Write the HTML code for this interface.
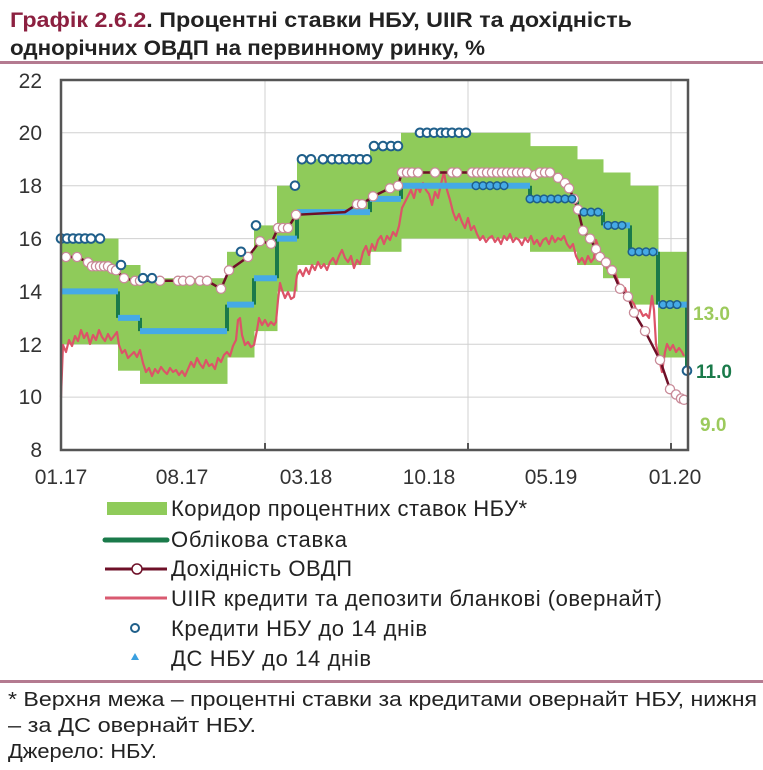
<!DOCTYPE html>
<html><head><meta charset="utf-8"><style>
body{margin:0;background:#fff;width:763px;height:765px;overflow:hidden;font-family:"Liberation Sans",sans-serif}
</style></head><body>
<svg width="763" height="765" xmlns="http://www.w3.org/2000/svg" font-family="Liberation Sans, sans-serif">
<g font-weight="bold" font-size="21" fill="#222">
<text x="10" y="27" textLength="622" lengthAdjust="spacingAndGlyphs"><tspan fill="#8c2040">Графік 2.6.2</tspan>. Процентні ставки НБУ, UIIR та дохідність</text>
<text x="10" y="55" textLength="475" lengthAdjust="spacingAndGlyphs">однорічних ОВДП на первинному ринку, %</text>
</g>
<rect x="0" y="61" width="763" height="3" fill="#b47a90"/>
<g stroke="#d0d0d0" stroke-width="1">
<line x1="61" x2="688" y1="132.8" y2="132.8"/><line x1="61" x2="688" y1="185.7" y2="185.7"/><line x1="61" x2="688" y1="238.6" y2="238.6"/><line x1="61" x2="688" y1="291.4" y2="291.4"/><line x1="61" x2="688" y1="344.3" y2="344.3"/><line x1="61" x2="688" y1="397.1" y2="397.1"/>
<line x1="265" x2="265" y1="80" y2="450"/><line x1="468" x2="468" y1="80" y2="450"/><line x1="671" x2="671" y1="80" y2="450"/>
</g>
<g fill="#8fcb5a">
<rect x="61" y="238.6" width="57.5" height="105.7"/>
<rect x="118" y="265" width="22.5" height="105.7"/>
<rect x="140" y="278.2" width="87.5" height="105.7"/>
<rect x="227" y="251.8" width="27.5" height="105.7"/>
<rect x="254" y="225.4" width="23.5" height="105.7"/>
<rect x="277" y="185.7" width="20.5" height="105.7"/>
<rect x="297" y="159.3" width="73.5" height="105.7"/>
<rect x="370" y="146.1" width="31.5" height="105.7"/>
<rect x="401" y="132.8" width="129.5" height="105.7"/>
<rect x="530" y="146.1" width="47.5" height="105.7"/>
<rect x="577" y="159.3" width="26.5" height="105.7"/>
<rect x="603" y="172.5" width="27.5" height="105.7"/>
<rect x="630" y="185.7" width="28.5" height="118.9"/>
<rect x="658" y="251.8" width="30" height="105.7"/>
</g>
<polyline fill="none" stroke="#dc5468" stroke-width="2.2" stroke-linejoin="round" points="61,397 63,345 66,352 69,340 72,346 75,336 78,341 81,330 84,338 87,333 90,344 93,335 96,340 99,330 102,337 105,341 108,334 111,340 114,336 117,332 119,345 122,353 125,350 128,358 131,355 134,352 137,357 140,350 143,363 146,372 149,368 152,376 155,369 158,373 161,367 164,371 167,374 170,368 173,372 176,370 179,375 182,371 185,376 188,369 191,362 194,367 197,358 200,364 203,368 206,360 209,366 212,364 215,369 218,358 221,362 224,355 227,352 230,356 233,346 236,340 238,320 240,318 242,335 245,345 248,342 251,347 254,345 257,330 259,318 262,325 265,320 268,326 271,322 274,325 276,322 278,300 280,283 282,290 285,298 288,292 291,299 294,297 297,275 300,270 303,276 306,268 309,274 312,265 315,270 318,262 321,268 324,264 327,270 330,262 333,258 336,264 339,256 342,250 345,258 348,262 351,256 354,268 357,260 360,264 363,252 366,246 369,255 372,244 375,250 378,240 381,236 384,244 387,236 390,240 393,232 396,236 399,226 402,208 405,202 408,196 411,190 414,198 417,186 420,192 423,183 426,190 429,194 432,205 435,192 438,198 441,184 444,172 447,190 450,200 453,212 456,220 459,214 462,222 465,228 468,218 471,230 474,226 477,234 480,240 483,236 486,242 489,238 492,236 495,242 498,238 501,244 504,236 507,240 510,234 513,242 516,238 519,240 522,245 525,238 528,242 531,236 534,244 537,240 540,246 543,240 546,238 549,244 552,236 555,242 558,238 561,240 564,236 567,244 570,248 573,244 576,256 579,262 582,258 585,264 588,256 591,262 594,258 596,240 598,246 601,256 604,262 607,268 610,272 613,266 616,276 619,284 622,290 625,288 628,298 631,300 634,304 637,312 640,310 643,316 646,314 649,318 652,296 654,310 656,344 659,358 662,372 665,352 667,344 670,350 673,345 676,352 679,348 682,352 684,356"/>
<path fill="none" stroke="#1a7a4a" stroke-width="4" d="M118 291.4V317.9M140 317.9V331.1M227 331.1V304.6M254 304.6V278.2M277 278.2V238.6M297 238.6V212.1M370 212.1V198.9M401 198.9V185.7M530 185.7V198.9M577 198.9V212.1M603 212.1V225.4M630 225.4V251.8M658 251.8V304.6M687 304.6V370.7"/>
<path fill="none" stroke="#45aae6" stroke-width="6" d="M61 291.4H118M118 317.9H140M140 331.1H227M227 304.6H254M254 278.2H277M277 238.6H297M297 212.1H370M370 198.9H401M401 185.7H530M530 198.9H577M577 212.1H603M603 225.4H630M630 251.8H658M658 304.6H687"/>
<polyline fill="none" stroke="#6e1028" stroke-width="2.5" points="66,257 77,257 88,262.3 92,266.3 108,266.3 112,268.9 116,270.3 124,278.2 135,280.8 207,280.8 221,288.8 229,270.3 248,257 260,241.2 271,243.8 278,228 288,228 296,214.8 345,212.1 357,204.2 362,204.2 373,196.3 390,188.3 398,185.7 402,172.5 527,172.5 535,175.1 540,172.5 550,172.5 558,177.8 565,183.1 569,188.3 574,198.9 578,209.5 583,230.6 590,238.6 596,249.2 600,257 606,262.3 612,270.3 620,288.8 628,296.7 634,312.6 645,331.1 660,360.1 670,389.2 676,394.5 681,398.5 684,399.8"/>
<g fill="#fff" stroke="#c88a98" stroke-width="1.3">
<circle cx="66" cy="257" r="4.6"/><circle cx="77" cy="257" r="4.6"/><circle cx="88" cy="262.3" r="4.6"/><circle cx="92" cy="266.3" r="4.6"/><circle cx="96" cy="266.3" r="4.6"/><circle cx="100" cy="266.3" r="4.6"/><circle cx="104" cy="266.3" r="4.6"/><circle cx="108" cy="266.3" r="4.6"/><circle cx="112" cy="268.9" r="4.6"/><circle cx="116" cy="270.3" r="4.6"/><circle cx="124" cy="278.2" r="4.6"/><circle cx="135" cy="280.8" r="4.6"/><circle cx="140" cy="280.8" r="4.6"/><circle cx="160" cy="280.8" r="4.6"/><circle cx="178" cy="280.8" r="4.6"/><circle cx="183" cy="280.8" r="4.6"/><circle cx="190" cy="280.8" r="4.6"/><circle cx="200" cy="280.8" r="4.6"/><circle cx="207" cy="280.8" r="4.6"/><circle cx="221" cy="288.8" r="4.6"/><circle cx="229" cy="270.3" r="4.6"/><circle cx="248" cy="257" r="4.6"/><circle cx="260" cy="241.2" r="4.6"/><circle cx="271" cy="243.8" r="4.6"/><circle cx="278" cy="228" r="4.6"/><circle cx="283" cy="228" r="4.6"/><circle cx="288" cy="228" r="4.6"/><circle cx="296" cy="214.8" r="4.6"/><circle cx="357" cy="204.2" r="4.6"/><circle cx="362" cy="204.2" r="4.6"/><circle cx="373" cy="196.3" r="4.6"/><circle cx="390" cy="188.3" r="4.6"/><circle cx="398" cy="185.7" r="4.6"/>
<circle cx="402" cy="172.5" r="4.6"/><circle cx="407" cy="172.5" r="4.6"/><circle cx="412" cy="172.5" r="4.6"/><circle cx="418" cy="172.5" r="4.6"/><circle cx="435" cy="172.5" r="4.6"/><circle cx="452" cy="172.5" r="4.6"/><circle cx="457" cy="172.5" r="4.6"/><circle cx="472" cy="172.5" r="4.6"/><circle cx="477" cy="172.5" r="4.6"/><circle cx="482" cy="172.5" r="4.6"/><circle cx="487" cy="172.5" r="4.6"/><circle cx="492" cy="172.5" r="4.6"/><circle cx="497" cy="172.5" r="4.6"/><circle cx="502" cy="172.5" r="4.6"/><circle cx="507" cy="172.5" r="4.6"/><circle cx="512" cy="172.5" r="4.6"/><circle cx="517" cy="172.5" r="4.6"/><circle cx="522" cy="172.5" r="4.6"/><circle cx="527" cy="172.5" r="4.6"/><circle cx="535" cy="175.1" r="4.6"/><circle cx="540" cy="172.5" r="4.6"/><circle cx="545" cy="172.5" r="4.6"/><circle cx="550" cy="172.5" r="4.6"/><circle cx="558" cy="177.8" r="4.6"/><circle cx="565" cy="183.1" r="4.6"/><circle cx="569" cy="188.3" r="4.6"/><circle cx="574" cy="198.9" r="4.6"/><circle cx="578" cy="209.5" r="4.6"/><circle cx="583" cy="230.6" r="4.6"/><circle cx="590" cy="238.6" r="4.6"/><circle cx="596" cy="249.2" r="4.6"/><circle cx="600" cy="257" r="4.6"/><circle cx="606" cy="262.3" r="4.6"/><circle cx="612" cy="270.3" r="4.6"/><circle cx="620" cy="288.8" r="4.6"/><circle cx="628" cy="296.7" r="4.6"/><circle cx="634" cy="312.6" r="4.6"/><circle cx="645" cy="331.1" r="4.6"/><circle cx="660" cy="360.1" r="4.6"/><circle cx="670" cy="389.2" r="4.6"/><circle cx="676" cy="394.5" r="4.6"/><circle cx="681" cy="398.5" r="4.6"/><circle cx="684" cy="399.8" r="4.6"/>
</g>
<g fill="#fff" stroke="#1f5f8a" stroke-width="2">
<circle cx="61" cy="238.6" r="4.3"/><circle cx="67" cy="238.6" r="4.3"/><circle cx="73" cy="238.6" r="4.3"/><circle cx="79" cy="238.6" r="4.3"/><circle cx="85" cy="238.6" r="4.3"/><circle cx="91" cy="238.6" r="4.3"/><circle cx="100" cy="238.6" r="4.3"/><circle cx="121" cy="265" r="4.3"/><circle cx="143" cy="278.2" r="4.3"/><circle cx="152" cy="278.2" r="4.3"/><circle cx="241" cy="251.8" r="4.3"/><circle cx="256" cy="225.4" r="4.3"/><circle cx="295" cy="185.7" r="4.3"/>
<circle cx="302" cy="159.3" r="4.3"/><circle cx="311" cy="159.3" r="4.3"/><circle cx="323" cy="159.3" r="4.3"/><circle cx="332" cy="159.3" r="4.3"/><circle cx="339" cy="159.3" r="4.3"/><circle cx="346" cy="159.3" r="4.3"/><circle cx="353" cy="159.3" r="4.3"/><circle cx="360" cy="159.3" r="4.3"/><circle cx="367" cy="159.3" r="4.3"/>
<circle cx="374" cy="146.1" r="4.3"/><circle cx="383" cy="146.1" r="4.3"/><circle cx="391" cy="146.1" r="4.3"/><circle cx="398" cy="146.1" r="4.3"/>
<circle cx="420" cy="132.8" r="4.3"/><circle cx="427" cy="132.8" r="4.3"/><circle cx="434" cy="132.8" r="4.3"/><circle cx="441" cy="132.8" r="4.3"/><circle cx="446" cy="132.8" r="4.3"/><circle cx="452" cy="132.8" r="4.3"/><circle cx="459" cy="132.8" r="4.3"/><circle cx="466" cy="132.8" r="4.3"/>
<circle cx="687" cy="370.7" r="4.3"/>
</g>
<g fill="#45aae6" stroke="#1f5f8a" stroke-width="1.5">
<circle cx="476" cy="185.7" r="3.8"/><circle cx="483" cy="185.7" r="3.8"/><circle cx="490" cy="185.7" r="3.8"/><circle cx="497" cy="185.7" r="3.8"/><circle cx="504" cy="185.7" r="3.8"/>
<circle cx="530" cy="198.9" r="3.8"/><circle cx="537" cy="198.9" r="3.8"/><circle cx="544" cy="198.9" r="3.8"/><circle cx="551" cy="198.9" r="3.8"/><circle cx="558" cy="198.9" r="3.8"/><circle cx="565" cy="198.9" r="3.8"/><circle cx="572" cy="198.9" r="3.8"/>
<circle cx="584" cy="212.1" r="3.8"/><circle cx="591" cy="212.1" r="3.8"/><circle cx="598" cy="212.1" r="3.8"/>
<circle cx="608" cy="225.4" r="3.8"/><circle cx="615" cy="225.4" r="3.8"/><circle cx="622" cy="225.4" r="3.8"/>
<circle cx="632" cy="251.8" r="3.8"/><circle cx="639" cy="251.8" r="3.8"/><circle cx="646" cy="251.8" r="3.8"/><circle cx="653" cy="251.8" r="3.8"/>
<circle cx="663" cy="304.6" r="3.8"/><circle cx="670" cy="304.6" r="3.8"/><circle cx="677" cy="304.6" r="3.8"/>
</g>
<rect x="61" y="80" width="627" height="370" fill="none" stroke="#555" stroke-width="2.5"/>
<g stroke="#555" stroke-width="2"><line x1="265" y1="450" x2="265" y2="443"/><line x1="468" y1="450" x2="468" y2="443"/><line x1="671" y1="450" x2="671" y2="443"/></g>
<g font-size="21" fill="#333" text-anchor="end">
<text x="42" y="88">22</text><text x="42" y="140">20</text><text x="42" y="193">18</text><text x="42" y="246">16</text><text x="42" y="299">14</text><text x="42" y="352">12</text><text x="42" y="404">10</text><text x="42" y="457">8</text>
</g>
<g font-size="21" fill="#333" text-anchor="middle">
<text x="61" y="484">01.17</text><text x="182" y="484">08.17</text><text x="306" y="484">03.18</text><text x="429" y="484">10.18</text><text x="551" y="484">05.19</text><text x="675" y="484">01.20</text>
</g>
<g font-size="19" font-weight="bold">
<text x="693" y="320" fill="#9cca5c">13.0</text>
<text x="696" y="378" fill="#1a7a4a">11.0</text>
<text x="700" y="431" fill="#9cca5c">9.0</text>
</g>
<rect x="107" y="502" width="60" height="13" fill="#8fcb5a"/>
<line x1="105" y1="540" x2="167" y2="540" stroke="#1a7a4a" stroke-width="5" stroke-linecap="round"/>
<line x1="105" y1="569" x2="167" y2="569" stroke="#6e1028" stroke-width="3"/>
<circle cx="137" cy="569" r="5" fill="#fff" stroke="#6e1028" stroke-width="1.5"/>
<line x1="105" y1="598" x2="167" y2="598" stroke="#d95a70" stroke-width="3"/>
<circle cx="135" cy="628" r="4" fill="#fff" stroke="#1f5f8a" stroke-width="2"/>
<polygon points="135,653 139,660 131,660" fill="#3aa0e0"/>
<g font-size="22" fill="#222" lengthAdjust="spacingAndGlyphs">
<text x="171" y="516" textLength="356">Коридор процентних ставок НБУ*</text>
<text x="171" y="547" textLength="176">Облікова ставка</text>
<text x="171" y="576" textLength="181">Дохідність ОВДП</text>
<text x="171" y="606" textLength="491">UIIR кредити та депозити бланкові (овернайт)</text>
<text x="171" y="636" textLength="256">Кредити НБУ до 14 днів</text>
<text x="171" y="666" textLength="200">ДС НБУ до 14 днів</text>
</g>
<rect x="0" y="680" width="763" height="3" fill="#b47a90"/>
<g font-size="20" fill="#222">
<text x="8" y="706" textLength="749" lengthAdjust="spacingAndGlyphs">* Верхня межа – процентні ставки за кредитами овернайт НБУ, нижня</text>
<text x="8" y="732" textLength="248" lengthAdjust="spacingAndGlyphs">– за ДС овернайт НБУ.</text>
<text x="8" y="758" textLength="149" lengthAdjust="spacingAndGlyphs">Джерело: НБУ.</text>
</g>
</svg>
</body></html>
